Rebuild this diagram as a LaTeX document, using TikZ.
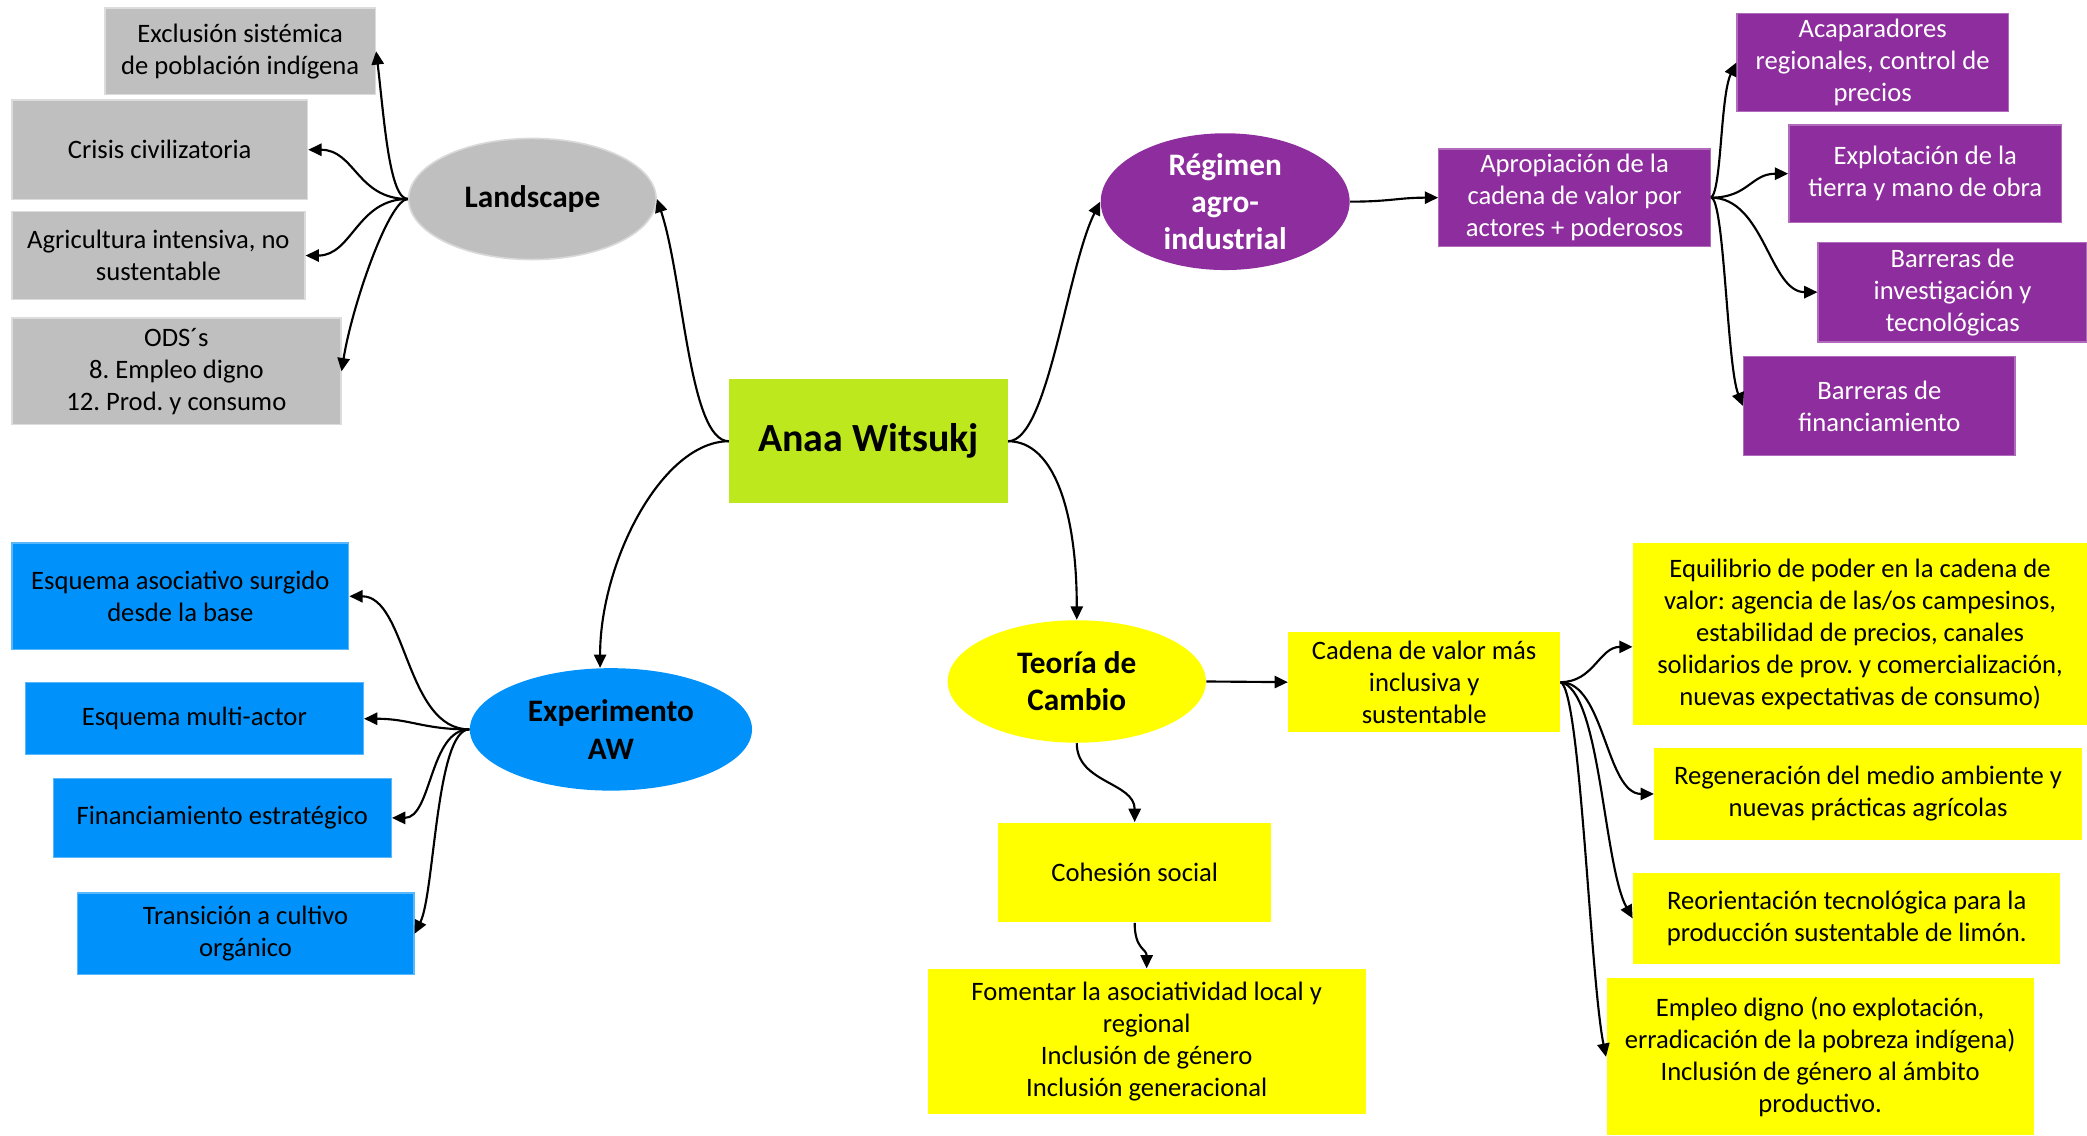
\documentclass[tikz,border=0pt]{standalone}
\usepackage{fontspec}
\setmainfont{Carlito}
\frenchspacing
\usetikzlibrary{arrows.meta,shapes.geometric,calc}
\definecolor{gfill}{RGB}{191,191,191}
\definecolor{pfill}{RGB}{142,45,158}
\definecolor{bfill}{RGB}{0,146,250}
\definecolor{lfill}{RGB}{190,232,30}
\definecolor{yfill}{RGB}{255,255,0}
\begin{document}
\begin{tikzpicture}[x=0.5pt,y=-0.5pt,
  box/.style={rectangle, inner sep=0pt, align=center, font=\fontsize{10}{12}\selectfont},
  gbox/.style={box, fill=gfill, draw=gfill!55!white, line width=0.6pt},
  pbox/.style={box, fill=pfill, draw=pfill!70!white, line width=0.5pt, text=white},
  bbox/.style={box, fill=bfill, draw=bfill!65!white, line width=0.5pt},
  ybox/.style={box, fill=yfill},
  lbox/.style={rectangle, inner sep=0pt, align=center, fill=lfill, font=\fontsize{15}{18}\selectfont\bfseries},
  oval/.style={ellipse, inner sep=0pt, align=center, font=\fontsize{11.75}{14}\selectfont\bfseries},
  goval/.style={oval, fill=gfill, draw=gfill!60!white, line width=0.6pt},
  poval/.style={oval, fill=pfill, text=white},
  boval/.style={oval, fill=bfill},
  yoval/.style={oval, fill=yfill},
  conn/.style={line width=0.8pt, -{Triangle[length=5pt,width=4.6pt]}},
]
\useasboundingbox (0,0) rectangle (1568,853);
\fill[white] (0,0) rectangle (1568,853);

% Landscape (grey)
\node[gbox, minimum width=101.5pt, minimum height=32.5pt] (excl) at (180.5,38.5) {Exclusión sistémica\\de población indígena};
\node[gbox, minimum width=111pt, minimum height=37.5pt] (cris) at (120,112.5) {Crisis civilizatoria};
\node[gbox, minimum width=110pt, minimum height=33pt] (agri) at (119,192) {Agricultura intensiva, no\\sustentable};
\node[gbox, minimum width=123.5pt, minimum height=40pt] (ods) at (132.5,279) {ODS´s\\8. Empleo digno\\12. Prod. y consumo};
\node[goval, minimum width=93pt, minimum height=45.5pt] (land) at (400,149.5) {Landscape};

% centre
\node[lbox, minimum width=104.5pt, minimum height=46.5pt] (anaa) at (652.5,331.5) {Anaa Witsukj};

% Regimen (purple)
\node[poval, minimum width=93.5pt, minimum height=45.5pt] (reg) at (920.5,151.5) {Régimen\\agro-\\industrial};
\node[pbox, minimum width=102pt, minimum height=36.5pt] (apro) at (1183,148.5) {Apropiación de la\\cadena de valor por\\actores + poderosos};
\node[pbox, minimum width=102pt, minimum height=37pt] (acap) at (1407,47) {Acaparadores\\regionales, control de\\precios};
\node[pbox, minimum width=102.5pt, minimum height=36.5pt] (expl) at (1446.5,130.5) {Explotación de la\\tierra y mano de obra};
\node[pbox, minimum width=101pt, minimum height=37.5pt] (binv) at (1467,219.5) {Barreras de\\investigación y\\tecnológicas};
\node[pbox, minimum width=102pt, minimum height=37pt] (bfin) at (1412,305) {Barreras de\\financiamiento};

% Experimento (blue)
\node[bbox, minimum width=126.5pt, minimum height=40pt] (asoc) at (135.5,448) {Esquema asociativo surgido\\desde la base};
\node[bbox, minimum width=127pt, minimum height=27pt] (multi) at (146,540) {Esquema multi-actor};
\node[bbox, minimum width=127pt, minimum height=29.5pt] (finan) at (167,614.5) {Financiamiento estratégico};
\node[bbox, minimum width=126.5pt, minimum height=30.5pt] (trans) at (184.5,701.5) {Transición a cultivo\\orgánico};
\node[boval, minimum width=106pt, minimum height=46pt] (exp) at (459,548) {Experimento\\AW};

% Teoria (yellow)
\node[yoval, minimum width=97pt, minimum height=46pt] (teo) at (809,512) {Teoría de\\Cambio};
\node[ybox, minimum width=102pt, minimum height=37.5pt] (cad) at (1070,512.5) {Cadena de valor más\\inclusiva y\\sustentable};
\node[ybox, minimum width=102.5pt, minimum height=37.5pt] (coh) at (852.5,655.5) {Cohesión social};
\node[ybox, minimum width=164.5pt, minimum height=54.5pt] (fom) at (861.5,782.5) {Fomentar la asociatividad local y\\regional\\Inclusión de género\\Inclusión generacional};
\node[ybox, minimum width=170.5pt, minimum height=68.5pt] (equi) at (1397.5,476.5) {Equilibrio de poder en la cadena de\\valor: agencia de las/os campesinos,\\estabilidad de precios, canales\\solidarios de prov. y comercialización,\\nuevas expectativas de consumo)};
\node[ybox, minimum width=160.5pt, minimum height=34.5pt] (regen) at (1403.5,596.5) {Regeneración del medio ambiente y\\nuevas prácticas agrícolas};
\node[ybox, minimum width=160.5pt, minimum height=34pt] (reor) at (1387.5,690) {Reorientación tecnológica para la\\producción sustentable de limón.};
\node[ybox, minimum width=160.5pt, minimum height=59pt] (emp) at (1367.5,794) {Empleo digno (no explotación,\\erradicación de la pobreza indígena)\\Inclusión de género al ámbito\\productivo.};

% connectors: centre
\draw[conn] (anaa.west) .. controls +(-30,0) and +(20,60) .. (land.east);
\draw[conn] (anaa.west) .. controls +(-50,0) and +(0,-80) .. (exp.100);
\draw[conn] (anaa.east) .. controls +(30,0) and +(-25,50) .. (reg.west);
\draw[conn] (anaa.east) .. controls +(35,0) and +(0,-80) .. (teo.north);

% Landscape branches
\draw[conn] (land.west) .. controls +(-14,0) and +(6,50) .. (excl.east);
\draw[conn] (land.west) .. controls +(-38,0) and +(35,0) .. (cris.east);
\draw[conn] (land.west) .. controls +(-38,0) and +(35,0) .. (agri.east);
\draw[conn] (land.west) .. controls +(-14,0) and +(8,-50) .. (ods.east);

% Experimento branches
\draw[conn] (exp.west) .. controls +(-48,0) and +(43,0) .. (asoc.east);
\draw[conn] (exp.west) .. controls +(-35,0) and +(35,0) .. (multi.east);
\draw[conn] (exp.west) .. controls +(-30,0) and +(30,0) .. (finan.east);
\draw[conn] (exp.west) .. controls +(-25,0) and +(15,-30) .. (trans.east);

% Regimen branches
\draw[conn] (reg.east) .. controls +(30,0) and +(-30,0) .. (apro.west);
\draw[conn] (apro.east) .. controls +(8,-5) and +(-12,25) .. (acap.west);
\draw[conn] (apro.east) .. controls +(28,0) and +(-28,0) .. (expl.west);
\draw[conn] (apro.east) .. controls +(40,0) and +(-36,0) .. (binv.west);
\draw[conn] (apro.east) .. controls +(10,0) and +(-12,-30) .. (bfin.west);

% Teoria branches
\draw[conn] (teo.east) -- (cad.west);
\draw[conn] (teo.south) .. controls +(0,30) and +(0,-30) .. (coh.north);
\draw[conn] (coh.south) .. controls +(0,20) and +(0,-15) .. (fom.north);
\draw[conn] (cad.east) .. controls +(25,0) and +(-25,0) .. ($(equi.west)+(0,9.5)$);
\draw[conn] (cad.east) .. controls +(33,0) and +(-36,0) .. (regen.west);
\draw[conn] (cad.east) .. controls +(30,5) and +(-22,-40) .. (reor.west);
\draw[conn] (cad.east) .. controls +(15,5) and +(-12,-60) .. (emp.west);
\end{tikzpicture}
\end{document}
